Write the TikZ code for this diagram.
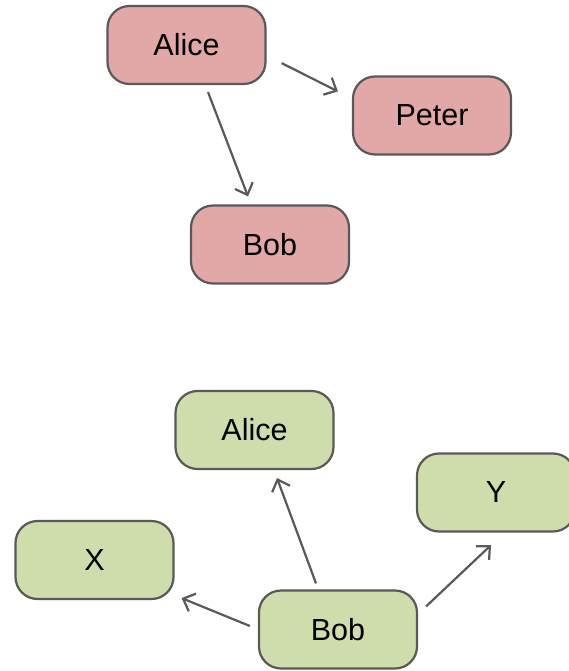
\documentclass[tikz,border=0pt]{standalone}
\usepackage{fontspec}
\setmainfont{Liberation Sans}
\usetikzlibrary{arrows.meta}
\definecolor{pinkfill}{HTML}{E2A7A7}
\definecolor{greenfill}{HTML}{CFDDAD}
\definecolor{edgegray}{HTML}{595959}
\begin{document}
\begin{tikzpicture}[x=1pt,y=-1pt,
  box/.style={draw=edgegray, line width=2.2pt, rounded corners=22pt,
    minimum width=158pt, minimum height=78pt, inner sep=0pt,
    font=\fontsize{30.5}{35}\selectfont},
  pinkbox/.style={box, fill=pinkfill},
  greenbox/.style={box, fill=greenfill},
  arr/.style={draw=edgegray, line width=2.2pt,
    -{Straight Barb[length=10pt,width=19pt,line width=2.2pt]}}]
\clip (0,0) rectangle (569,671);
\fill[white] (0,0) rectangle (569,671);

% upper graph
\node[pinkbox] (alice1) at (186.5,45) {Alice};
\node[pinkbox] (peter) at (432,115.5) {Peter};
\node[pinkbox] (bob1) at (270,244.5) {Bob};

\draw[arr] ([xshift=15pt,yshift=22pt]alice1.south east) -- ([xshift=-14pt,yshift=-16pt]peter.north west);
\draw[arr] ([xshift=21.5pt,yshift=-7pt]alice1.south) -- ([xshift=-22pt,yshift=8pt]bob1.north);

% lower graph
\node[greenbox] (alice2) at (254.5,430) {Alice};
\node[greenbox] (y) at (496,492.5) {Y};
\node[greenbox] (x) at (94.5,560) {X};
\node[greenbox] (bob2) at (338,629.5) {Bob};

\draw[arr] ([xshift=-22pt,yshift=6pt]bob2.north) -- ([xshift=22.5pt,yshift=-8pt]alice2.south);
\draw[arr] ([xshift=-8pt,yshift=3.5pt]bob2.west) -- ([xshift=7pt,yshift=2pt]x.south east);
\draw[arr] ([xshift=8pt,yshift=-17pt]bob2.north east) -- ([xshift=-5pt,yshift=-12.5pt]y.south);
\end{tikzpicture}
\end{document}
